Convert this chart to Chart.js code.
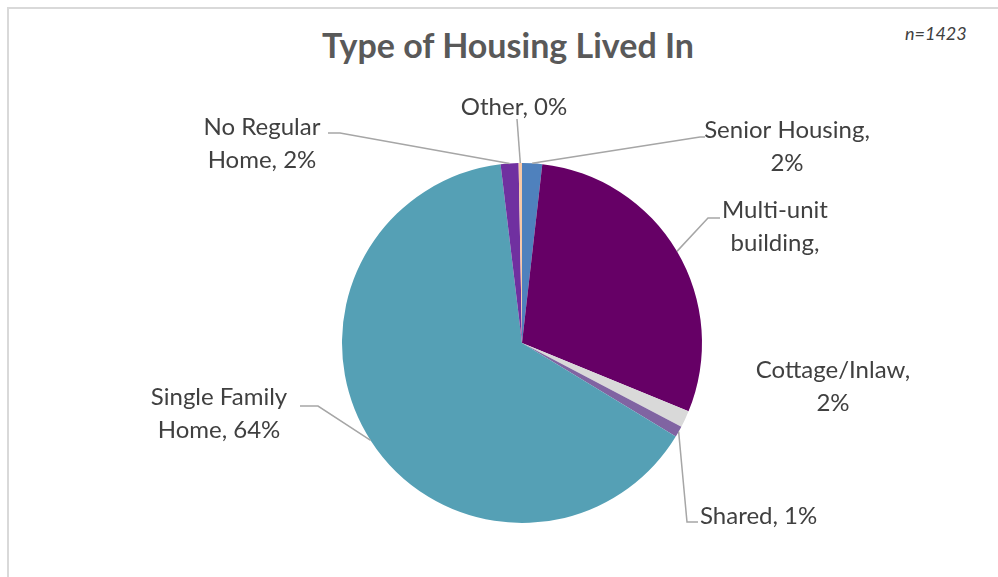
<!DOCTYPE html>
<html><head><meta charset="utf-8">
<script src="https://cdn.jsdelivr.net/npm/chart.js@4"></script>
<style>
html,body{margin:0;padding:0;background:#fff;}
#wrap{position:relative;width:998px;height:577px;overflow:hidden;}
#frame{position:absolute;left:7px;top:7px;width:1000px;height:600px;border-left:2px solid #d9d9d9;border-top:2px solid #d9d9d9;}
#title{position:absolute;left:0;width:1016px;top:24px;text-align:center;font:bold 34px Lato, sans-serif;color:#595959;}
#n{position:absolute;left:905px;top:22px;font:italic 18px Lato, sans-serif;color:#404040;}
canvas{position:absolute;left:0;top:0;}
</style></head>
<body><div id="wrap"><div id="frame"></div>
<div id="title">Type of Housing Lived In</div>
<div id="n">n=1423</div>
<canvas id="c" width="998" height="577"></canvas></div>
<script>
const categories = ["Senior Housing","Multi-unit building","Cottage/Inlaw","Shared","Single Family Home","No Regular Home","Other"];
const values = [1.8, 29.4, 1.5, 1.0, 64.4, 1.6, 0.3];
const labelLines = [["Senior Housing,","2%"],["Multi-unit","building,"],["Cottage/Inlaw,","2%"],["Shared, 1%"],["Single Family","Home, 64%"],["No Regular","Home, 2%"],["Other, 0%"]];
const colors = ["#4f81bd","#660066","#d9d9d9","#8064a2","#55a0b5","#7030a0","#f9c8a5"];

// label placement: text anchor (x,y of first line center), alignment, elbow for leader line
const labelPos = [
  {x:787,y:130,align:"center",elbow:[[700,137],[705,137]]},
  {x:775,y:210,align:"center",elbow:[[708,218],[720,218]]},
  {x:833,y:370,align:"center",elbow:null},
  {x:700,y:516,align:"left",elbow:[[687,522],[698,522]]},
  {x:219,y:397,align:"center",elbow:[[318,406],[300,406]]},
  {x:262,y:127,align:"center",elbow:[[340,133],[328,133]]},
  {x:514,y:107,align:"center",elbow:[[517,119]]}
];

const labelPlugin = {
  id:"labels",
  afterDatasetsDraw(chart){
    const ctx = chart.ctx;
    const meta = chart.getDatasetMeta(0);
    ctx.save();
    meta.data.forEach((arc,i)=>{
      const p = arc.getProps(["x","y","startAngle","endAngle","outerRadius"],true);
      const mid = (p.startAngle+p.endAngle)/2;
      const ax = p.x + Math.cos(mid)*p.outerRadius;
      const ay = p.y + Math.sin(mid)*p.outerRadius;
      const lp = labelPos[i];
      if(lp.elbow){
        ctx.strokeStyle="#a6a6a6";ctx.lineWidth=1.5;
        ctx.beginPath();ctx.moveTo(ax,ay);
        lp.elbow.forEach(pt=>ctx.lineTo(pt[0],pt[1]));
        ctx.stroke();
      }
      ctx.fillStyle="#404040";
      ctx.font="24px Lato, sans-serif";
      ctx.textAlign=lp.align;ctx.textBaseline="middle";
      labelLines[i].forEach((t,k)=>ctx.fillText(t,lp.x,lp.y+k*33));
    });
    ctx.restore();
  }
};

new Chart(document.getElementById("c"),{
  type:"pie",
  data:{labels:categories,datasets:[{data:values,backgroundColor:colors,borderWidth:0}]},
  options:{
    responsive:false,animation:false,
    layout:{padding:{left:342,right:296,top:163,bottom:54}},
    plugins:{legend:{display:false},tooltip:{enabled:false},title:{display:false}}
  },
  plugins:[labelPlugin]
});
</script></body></html>
